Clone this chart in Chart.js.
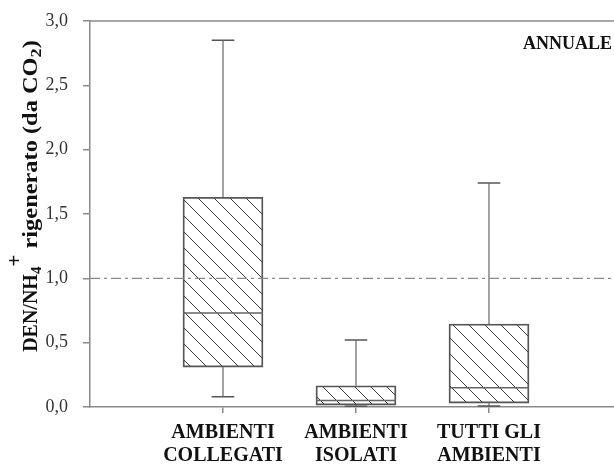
<!DOCTYPE html>
<html>
<head>
<meta charset="utf-8">
<script src="https://cdn.jsdelivr.net/npm/chart.js@4.4.0/dist/chart.umd.min.js"></script>
<style>
  html, body { margin: 0; padding: 0; background: #fff; }
  canvas { display: block; }
</style>
</head>
<body>
<canvas id="myChart" width="614" height="466"></canvas>
<script>
const categories = [['AMBIENTI', 'COLLEGATI'], ['AMBIENTI', 'ISOLATI'], ['TUTTI GLI', 'AMBIENTI']]
const whiskerLow = [0.08, 0.005, 0.008]
const q1 = [0.31, 0.015, 0.03]
const median = [0.73, 0.05, 0.15]
const q3 = [1.63, 0.165, 0.645]
const whiskerHigh = [2.85, 0.52, 1.74]
const refValue = 1.0
const panelLabel = 'ANNUALE'
const yTitleParts = [
    { text: 'DEN/NH' },
    { text: '4', sub: true },
    { text: '+', sup: true },
    { text: ' rigenerato (da CO' },
    { text: '2', sub: true },
    { text: ')' }
]

const xMax = 3.94
const boxHalf = 0.3
const capHalf = 0.085
const serif = '"Liberation Serif", "Times New Roman", serif'

// diagonal hatch for the boxes
function makeHatch() {
    const c = document.createElement('canvas')
    c.width = 16
    c.height = 16
    const g = c.getContext('2d')
    g.strokeStyle = '#3a3a3a'
    g.lineWidth = 1
    g.beginPath()
    g.moveTo(-2, -2); g.lineTo(18, 18)
    g.moveTo(-2, 14); g.lineTo(2, 18)
    g.moveTo(14, -2); g.lineTo(18, 2)
    g.stroke()
    return g.createPattern(c, 'repeat')
}

const boxData = []
const whiskerData = []
const capData = []
const medianData = []
categories.forEach((cat, i) => {
    const x = i + 1
    boxData.push({ x: x, y: [q1[i], q3[i]] })
    whiskerData.push({ x: x, y: q3[i] }, { x: x, y: whiskerHigh[i] }, { x: x, y: null },
                     { x: x, y: q1[i] }, { x: x, y: whiskerLow[i] }, { x: x, y: null })
    capData.push({ x: x - capHalf, y: whiskerHigh[i] }, { x: x + capHalf, y: whiskerHigh[i] }, { x: x, y: null },
                 { x: x - capHalf, y: whiskerLow[i] }, { x: x + capHalf, y: whiskerLow[i] }, { x: x, y: null })
    medianData.push({ x: x - boxHalf, y: median[i] }, { x: x + boxHalf, y: median[i] }, { x: x, y: null })
})

// top frame line, panel label and the y title with sub/superscripts
const decorations = {
    id: 'decorations',
    afterDraw(chart) {
        const { ctx, chartArea } = chart
        ctx.save()
        ctx.strokeStyle = '#8a8a8a'
        ctx.lineWidth = 1.5
        ctx.beginPath()
        ctx.moveTo(chartArea.left, chartArea.top)
        ctx.lineTo(chartArea.right, chartArea.top)
        ctx.stroke()

        ctx.fillStyle = '#111'
        ctx.font = 'bold 18px ' + serif
        ctx.textAlign = 'right'
        ctx.textBaseline = 'alphabetic'
        ctx.fillText(panelLabel, chartArea.right - 2, chartArea.top + 28)

        // rotated title; lowercase part is drawn wider like the original
        ctx.translate(37, 196)
        ctx.rotate(-Math.PI / 2)
        ctx.textAlign = 'left'
        const fontFor = p => p.sub ? 'bold 15px ' + serif : p.sup ? 'bold 21px ' + serif : 'bold 20px ' + serif
        const stretchFor = p => /[a-z()]/.test(p.text) || p.text === '2' ? 1.22 : 1
        let total = 0
        yTitleParts.forEach(p => { ctx.font = fontFor(p); total += ctx.measureText(p.text).width * stretchFor(p) })
        let x = -total / 2
        yTitleParts.forEach(p => {
            ctx.font = fontFor(p)
            const dy = p.sub ? 4 : p.sup ? -16 : 0
            const s = stretchFor(p)
            ctx.save()
            ctx.translate(x, dy)
            ctx.scale(s, 1)
            ctx.fillText(p.text, 0, 0)
            ctx.restore()
            x += ctx.measureText(p.text).width * s
        })
        ctx.restore()
    }
}

const ctx = document.getElementById('myChart').getContext('2d')

const myChart = new Chart(ctx, {
    type: 'bar',
    data: {
        datasets: [{
            label: 'box',
            data: boxData,
            backgroundColor: makeHatch(),
            borderColor: '#555',
            borderWidth: 1.2,
            borderSkipped: false,
            barThickness: 80,
            order: 4
        }, {
            type: 'line',
            label: 'median',
            data: medianData,
            borderColor: '#666',
            borderWidth: 1.6,
            pointRadius: 0,
            order: 3
        }, {
            type: 'line',
            label: 'whiskers',
            data: whiskerData,
            borderColor: '#666',
            borderWidth: 1.2,
            pointRadius: 0,
            order: 2
        }, {
            type: 'line',
            label: 'caps',
            data: capData,
            borderColor: '#555',
            borderWidth: 1.5,
            pointRadius: 0,
            order: 2
        }, {
            type: 'line',
            label: 'ref',
            data: [{ x: 0, y: refValue }, { x: xMax, y: refValue }],
            borderColor: '#8a8a8a',
            borderWidth: 1.3,
            borderDash: [10, 4, 3, 4],
            pointRadius: 0,
            order: 1
        }]
    },
    options: {
        responsive: false,
        animation: false,
        devicePixelRatio: 1,
        layout: { padding: { top: 21, right: 0, bottom: 0, left: 0 } },
        plugins: {
            legend: { display: false },
            tooltip: { enabled: false }
        },
        scales: {
            x: {
                type: 'linear',
                offset: false,
                min: 0,
                max: xMax,
                afterFit: (scale) => { scale.height = 59 },
                afterBuildTicks: (scale) => { scale.ticks = categories.map((c, i) => ({ value: i + 1 })) },
                grid: { offset: false, drawOnChartArea: false, drawTicks: true, tickLength: 6, tickColor: '#8a8a8a', lineWidth: 1.5 },
                border: { color: '#8a8a8a', width: 1.5 },
                ticks: {
                    color: '#111',
                    padding: 8,
                    font: { family: serif, size: 20, weight: 'bold', lineHeight: 1.15 },
                    callback: (v) => categories[v - 1]
                }
            },
            y: {
                min: 0,
                max: 3,
                afterFit: (scale) => { scale.width = 90 },
                grid: { drawOnChartArea: false, drawTicks: true, tickLength: 7, tickColor: '#8a8a8a', lineWidth: 1.5 },
                border: { color: '#8a8a8a', width: 1.5 },
                ticks: {
                    stepSize: 0.5,
                    color: '#333',
                    padding: 15,
                    // small lineHeight keeps the label padding from pushing the plot top down
                    font: { family: serif, size: 18, lineHeight: 0.6 },
                    callback: (v) => v.toFixed(1).replace('.', ',')
                }
            }
        }
    },
    plugins: [decorations]
})
</script>
</body>
</html>
